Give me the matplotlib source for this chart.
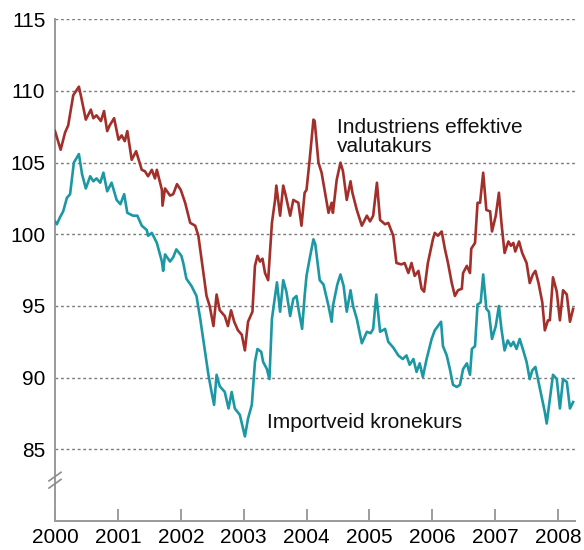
import matplotlib
matplotlib.use("Agg")
import matplotlib.pyplot as plt
import matplotlib.transforms as mtransforms
import numpy as np

plt.rcParams['font.family'] = ['Liberation Sans', 'DejaVu Sans']

# Industriens effektive valutakurs (decimal year, index)
ind_t = [2000.00, 2000.09, 2000.16, 2000.21, 2000.29, 2000.38, 2000.42, 2000.49, 2000.57, 2000.61,
         2000.66, 2000.73, 2000.78, 2000.83, 2000.87, 2000.94, 2001.01, 2001.06, 2001.11, 2001.15,
         2001.22, 2001.29, 2001.38, 2001.43, 2001.48, 2001.54, 2001.59, 2001.62, 2001.70, 2001.71,
         2001.75, 2001.83, 2001.88, 2001.94, 2002.00, 2002.07, 2002.15, 2002.23, 2002.28, 2002.33,
         2002.41, 2002.46, 2002.52, 2002.57, 2002.62, 2002.70, 2002.75, 2002.80, 2002.85, 2002.91,
         2002.97, 2003.02, 2003.07, 2003.14, 2003.18, 2003.22, 2003.26, 2003.30, 2003.34, 2003.39,
         2003.45, 2003.50, 2003.52, 2003.58, 2003.63, 2003.67, 2003.74, 2003.79, 2003.87, 2003.92,
         2003.97, 2004.00, 2004.05, 2004.11, 2004.13, 2004.19, 2004.24, 2004.35, 2004.40, 2004.42,
         2004.48, 2004.54, 2004.58, 2004.64, 2004.70, 2004.73, 2004.80, 2004.88, 2004.96, 2005.01,
         2005.06, 2005.12, 2005.17, 2005.25, 2005.30, 2005.38, 2005.43, 2005.51, 2005.56, 2005.62,
         2005.67, 2005.72, 2005.78, 2005.83, 2005.87, 2005.93, 2006.01, 2006.04, 2006.09, 2006.15,
         2006.20, 2006.25, 2006.31, 2006.36, 2006.41, 2006.47, 2006.49, 2006.55, 2006.60, 2006.62,
         2006.68, 2006.72, 2006.76, 2006.81, 2006.86, 2006.92, 2006.95, 2007.01, 2007.06, 2007.10,
         2007.15, 2007.21, 2007.25, 2007.29, 2007.32, 2007.38, 2007.43, 2007.50, 2007.55, 2007.60,
         2007.64, 2007.69, 2007.75, 2007.79, 2007.84, 2007.87, 2007.92, 2007.98, 2008.03, 2008.08,
         2008.14, 2008.19, 2008.24]
ind_v = [107.2, 105.9, 107.1, 107.6, 109.7, 110.3, 109.5, 108.0, 108.7, 108.1,
         108.3, 107.9, 108.6, 107.2, 107.6, 108.1, 106.6, 106.9, 106.5, 107.2,
         105.2, 105.8, 104.5, 104.4, 104.05, 104.5, 103.9, 104.5, 103.1, 102.0,
         103.2, 102.7, 102.8, 103.5, 103.1, 102.2, 100.8, 100.6, 99.9, 98.3,
         95.7, 95.0, 93.6, 95.8, 94.7, 94.3, 93.6, 94.7, 93.9, 93.3,
         93.0, 91.9, 93.9, 94.6, 97.8, 98.5, 98.1, 98.3, 97.3, 96.8,
         100.8, 102.4, 103.4, 101.3, 103.4, 102.7, 101.3, 102.4, 102.2, 100.6,
         102.9, 103.1, 105.2, 108.0, 107.9, 105.0, 104.3, 101.5, 102.2, 101.5,
         103.8, 105.0, 104.4, 102.4, 103.7, 102.9, 101.7, 100.6, 101.3, 100.9,
         101.3, 103.6, 101.0, 100.7, 100.8, 99.9, 98.0, 97.9, 98.0, 97.3,
         98.0, 97.1, 97.45, 96.2, 96.0, 98.0, 99.65, 100.1, 99.9, 100.2,
         99.0, 98.0, 96.6, 95.7, 96.1, 96.2, 97.3, 97.8, 97.3, 99.0,
         99.4, 102.2, 102.2, 104.3, 101.7, 101.6, 100.2, 101.3, 102.9, 100.8,
         98.7, 99.5, 99.2, 99.4, 98.8, 99.5, 98.7, 98.0, 96.6, 97.2,
         97.45, 96.6, 95.25, 93.3, 94.0, 94.0, 97.0, 96.0, 94.0, 96.1,
         95.8, 93.9, 94.8]

# Importveid kronekurs (decimal year, index)
imp_t = [2000.00, 2000.03, 2000.08, 2000.13, 2000.19, 2000.24, 2000.30, 2000.38, 2000.43, 2000.49,
         2000.56, 2000.61, 2000.66, 2000.72, 2000.77, 2000.83, 2000.90, 2000.98, 2001.04, 2001.10,
         2001.15, 2001.24, 2001.31, 2001.38, 2001.46, 2001.48, 2001.54, 2001.62, 2001.70, 2001.72,
         2001.75, 2001.83, 2001.88, 2001.93, 2002.01, 2002.04, 2002.09, 2002.17, 2002.25, 2002.31,
         2002.38, 2002.44, 2002.49, 2002.53, 2002.57, 2002.62, 2002.70, 2002.76, 2002.81, 2002.86,
         2002.94, 2003.02, 2003.07, 2003.13, 2003.18, 2003.22, 2003.28, 2003.31, 2003.37, 2003.41,
         2003.45, 2003.50, 2003.53, 2003.58, 2003.63, 2003.68, 2003.74, 2003.79, 2003.84, 2003.88,
         2003.93, 2003.97, 2004.00, 2004.05, 2004.11, 2004.14, 2004.21, 2004.27, 2004.35, 2004.40,
         2004.42, 2004.49, 2004.54, 2004.59, 2004.64, 2004.70, 2004.74, 2004.80, 2004.88, 2004.96,
         2005.02, 2005.06, 2005.11, 2005.17, 2005.25, 2005.30, 2005.38, 2005.46, 2005.53, 2005.59,
         2005.64, 2005.70, 2005.75, 2005.80, 2005.85, 2005.91, 2005.99, 2006.04, 2006.09, 2006.14,
         2006.17, 2006.23, 2006.28, 2006.33, 2006.39, 2006.44, 2006.49, 2006.55, 2006.60, 2006.63,
         2006.68, 2006.72, 2006.77, 2006.81, 2006.86, 2006.90, 2006.95, 2007.01, 2007.06, 2007.10,
         2007.15, 2007.20, 2007.25, 2007.29, 2007.34, 2007.39, 2007.44, 2007.50, 2007.55, 2007.59,
         2007.64, 2007.69, 2007.74, 2007.79, 2007.82, 2007.87, 2007.92, 2007.98, 2008.03, 2008.08,
         2008.14, 2008.19, 2008.24]
imp_v = [100.9, 100.7, 101.2, 101.6, 102.55, 102.8, 105.0, 105.6, 104.2, 103.2,
         104.05, 103.7, 103.9, 103.6, 104.3, 103.0, 103.6, 102.4, 102.1, 102.8,
         101.5, 101.3, 101.3, 100.6, 100.3, 99.9, 100.1, 99.4, 98.1, 97.45,
         98.6, 98.1, 98.4, 98.95, 98.5, 98.0, 96.9, 96.4, 95.7, 94.1,
         92.0, 90.2, 89.0, 88.1, 90.2, 89.4, 89.0, 87.85, 89.0, 87.85,
         87.4, 85.9, 87.15, 88.1, 91.1, 92.0, 91.8, 91.1, 90.6, 89.9,
         94.1, 95.7, 96.65, 94.6, 96.8, 96.0, 94.3, 95.5, 95.7, 94.6,
         93.4, 95.7, 97.1, 98.3, 99.65, 99.3, 96.8, 96.5, 95.0, 93.9,
         95.0, 96.5, 97.2, 96.4, 94.6, 96.1, 95.0, 94.1, 92.4, 93.2,
         93.1, 93.4, 95.8, 93.2, 93.4, 92.5, 92.1, 91.55, 91.3, 91.55,
         90.9, 91.3, 90.4, 91.0, 90.05, 91.3, 92.7, 93.3, 93.6, 93.9,
         92.2, 91.55, 90.6, 89.5, 89.35, 89.5, 90.6, 91.0, 90.2, 92.0,
         92.2, 95.1, 95.25, 97.2, 94.8, 94.6, 92.7, 93.6, 95.0, 93.4,
         91.9, 92.6, 92.2, 92.5, 92.0, 92.7, 92.0, 91.1, 89.9, 90.5,
         90.75, 89.7, 88.65, 87.6, 86.8, 88.5, 90.2, 89.9, 87.85, 89.9,
         89.7, 87.85, 88.3]

years = list(range(2000, 2009))
yticks = [85, 90, 95, 100, 105, 110, 115]

red = '#a32f2a'
teal = '#1c98a4'
grey = '#8c8c8c'

fig = plt.figure(figsize=(5.84, 5.5), dpi=100)
ax = fig.add_axes([55 / 584, 1 - 521 / 550, 520 / 584, (521 - 19.3) / 550])

for y in yticks:
    ax.axhline(y, color='#7a7a7a', lw=1.0, ls=(0, (2, 2)), zorder=1)

ax.plot(ind_t, ind_v, color=red, lw=1.9, zorder=3)
ax.plot(imp_t, imp_v, color=teal, lw=1.9, zorder=3)

ax.set_xlim(2000, 2008.27)
ax.set_ylim(80, 115)

ax.set_yticks(yticks)
ax.set_xticks(years)
ax.set_xticklabels([str(y) for y in years])
ax.tick_params(axis='y', length=0, pad=7, labelsize=15)
ax.tick_params(axis='x', direction='in', length=9, width=1.2, color=grey,
               pad=5, labelsize=15)

for s in ['top', 'right']:
    ax.spines[s].set_visible(False)
for s in ['left', 'bottom']:
    ax.spines[s].set_color('#999999')
    ax.spines[s].set_linewidth(1.4)

# axis break marks on the y-axis
trans = mtransforms.blended_transform_factory(ax.transAxes, ax.transData)
dx = 6 / 520
for yc in [83.1, 82.6]:
    ax.plot([-dx, dx], [yc - 0.3, yc + 0.3], transform=trans, color=grey,
            lw=1.2, clip_on=False, zorder=5)

ax.text(2004.49, 105.76, 'Industriens effektive\nvalutakurs', fontsize=15,
        ha='left', va='baseline', linespacing=1.0, color='#111111')
ax.text(2003.37, 86.5, 'Importveid kronekurs', fontsize=15,
        ha='left', va='baseline', color='#111111')

fig.savefig('out.png', dpi=100)
